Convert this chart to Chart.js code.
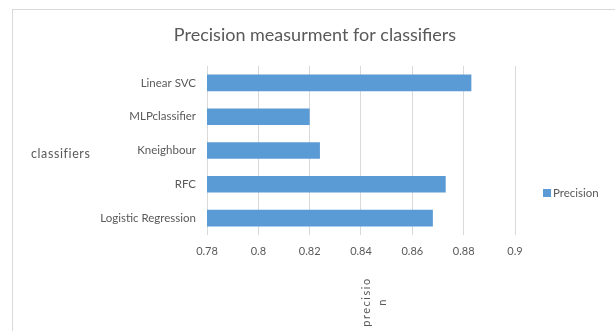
<!DOCTYPE html>
<html>
<head>
<meta charset="utf-8">
<script src="https://cdn.jsdelivr.net/npm/chart.js@4.4.1/dist/chart.umd.min.js"></script>
<style>
  html, body { margin: 0; padding: 0; background: #ffffff; }
  #wrap { width: 615px; height: 331px; position: relative; }
</style>
</head>
<body>
<div id="wrap"><canvas id="chart" width="615" height="331"></canvas></div>
<script>
// Classifier names and their precision scores
const classifiers = ['Linear SVC', 'MLPclassifier', 'Kneighbour', 'RFC', 'Logistic Regression'];
const precision = [0.883, 0.820, 0.824, 0.873, 0.868];
const seriesName = 'Precision';
const chartTitle = 'Precision measurment for classifiers';
const yAxisTitle = 'classifiers';
const xAxisTitleLines = ['precisio', 'n'];
const xMin = 0.78, xMax = 0.9, xStep = 0.02;

const FONT = 'Lato, "Open Sans", sans-serif';
const TEXT = '#595959';
const GRID = '#d9d9d9';
const BAR = '#5B9BD5';

// Outer frame around the chart
const framePlugin = {
  id: 'frame',
  beforeDraw(chart) {
    const ctx = chart.ctx;
    ctx.save();
    ctx.fillStyle = '#ffffff';
    ctx.fillRect(0, 0, chart.width, chart.height);
    ctx.strokeStyle = GRID;
    ctx.lineWidth = 1;
    ctx.strokeRect(12.5, 9.5, 800, 500);
    ctx.restore();
  }
};

// Axis titles (horizontal category title, rotated value title) and the legend
const extrasPlugin = {
  id: 'extras',
  afterDraw(chart) {
    const ctx = chart.ctx;
    const area = chart.chartArea;
    ctx.save();
    ctx.fillStyle = TEXT;

    // category axis title, drawn horizontally left of the labels
    ctx.font = '12.5px ' + FONT;
    ctx.letterSpacing = '0.6px';
    ctx.textAlign = 'left';
    ctx.textBaseline = 'middle';
    ctx.fillText(yAxisTitle, 31, (area.top + area.bottom) / 2 + 3);

    // value axis title, rotated and wrapped over two lines
    ctx.save();
    ctx.translate(366, 302);
    ctx.rotate(-Math.PI / 2);
    ctx.font = '11px ' + FONT;
    ctx.letterSpacing = '1.5px';
    ctx.textAlign = 'center';
    xAxisTitleLines.forEach((line, i) => ctx.fillText(line, 0, i * 16));
    ctx.restore();

    // legend
    const ds = chart.data.datasets[0];
    ctx.letterSpacing = '0px';
    ctx.fillStyle = ds.backgroundColor;
    ctx.fillRect(543, 189, 8, 8);
    ctx.fillStyle = TEXT;
    ctx.font = '11.5px ' + FONT;
    ctx.textAlign = 'left';
    ctx.textBaseline = 'middle';
    ctx.fillText(ds.label, 553, 193);
    ctx.restore();
  }
};

new Chart(document.getElementById('chart'), {
  type: 'bar',
  data: {
    labels: classifiers,
    datasets: [{
      label: seriesName,
      data: precision,
      backgroundColor: BAR,
      borderWidth: 0,
      categoryPercentage: 1,
      barPercentage: 0.49
    }]
  },
  options: {
    indexAxis: 'y',
    responsive: false,
    animation: false,
    devicePixelRatio: 1,
    layout: { padding: { left: 15, right: 0, top: 0, bottom: 0 } },
    plugins: {
      legend: { display: false },
      tooltip: { enabled: false },
      title: {
        display: true,
        text: chartTitle,
        color: TEXT,
        font: { family: FONT, size: 18, weight: 'normal', lineHeight: 1.2 },
        padding: { top: 24.2, bottom: 20.2 }
      }
    },
    scales: {
      x: {
        type: 'linear',
        position: 'bottom',
        min: xMin,
        max: xMax,
        ticks: {
          stepSize: xStep,
          color: TEXT,
          padding: 10,
          font: { family: FONT, size: 11 },
          callback: v => String(Number(v.toFixed(2)))
        },
        grid: { color: GRID, drawTicks: false, lineWidth: 1 },
        border: { display: false },
        afterFit: s => { s.height = 96; }
      },
      y: {
        type: 'category',
        position: 'left',
        ticks: {
          color: TEXT,
          padding: 11,
          font: { family: FONT, size: 11.5 }
        },
        grid: { display: false, drawTicks: false },
        border: { display: false },
        afterFit: s => { s.width = 192; }
      },
      // empty right-hand band that holds the legend
      side: {
        type: 'linear',
        position: 'right',
        display: true,
        ticks: { display: false },
        grid: { display: false, drawTicks: false },
        border: { display: false },
        afterFit: s => { s.width = 100; }
      }
    }
  },
  plugins: [framePlugin, extrasPlugin]
});
</script>
</body>
</html>
